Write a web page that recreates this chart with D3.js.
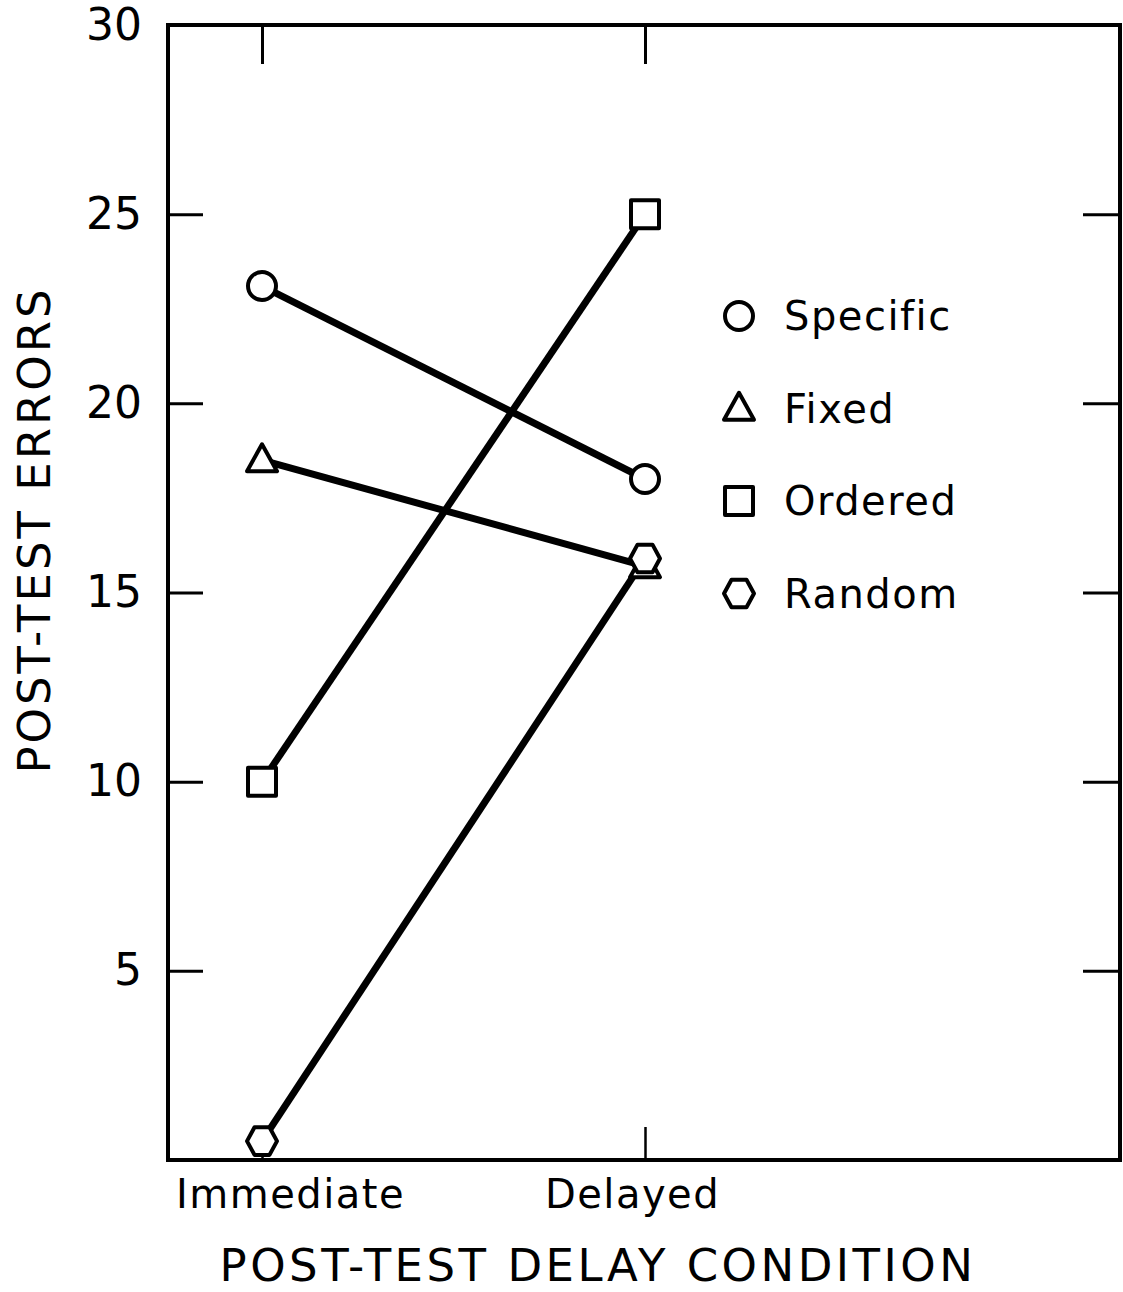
<!DOCTYPE html>
<html>
<head>
<meta charset="utf-8">
<script src="https://cdn.jsdelivr.net/npm/d3@7"></script>
<style>
  body { margin: 0; background: #fff; }
  text { font-family: "DejaVu Sans", sans-serif; fill: #000; }
</style>
</head>
<body>
<div id="chart"></div>
<script>
// data
const conditions = ["Immediate", "Delayed"]
const groups = ["Specific", "Fixed", "Ordered", "Random"]
const specific = [23.1, 18.0]
const fixed = [18.5, 15.7]
const ordered = [10.0, 25.0]
const random = [0.5, 15.9]
const yTicks = [5, 10, 15, 20, 25, 30]

const width = 1123,
    height = 1292
const plotLeft = 168, plotRight = 1120, plotTop = 25, plotBottom = 1160

const svg = d3.select("#chart")
  .append("svg")
    .attr("width", width)
    .attr("height", height)

const x = d3.scalePoint()
  .domain(conditions)
  .range([plotLeft + 94, plotLeft + 477])

const y = d3.scaleLinear()
  .domain([0, 30])
  .range([plotBottom, plotTop])

// marker shapes, all hollow
function hexagon(r) {
  const h = r * 0.92
  return `M${-r},0L${-r/2},${-h}L${r/2},${-h}L${r},0L${r/2},${h}L${-r/2},${h}Z`
}
function triangle(r) {
  return `M0,${-r*1.05}L${r},${r*0.75}L${-r},${r*0.75}Z`
}
function square(r) {
  return `M${-r},${-r}H${r}V${r}H${-r}Z`
}
function circle(r) {
  return d3.arc()({innerRadius: 0, outerRadius: r, startAngle: 0, endAngle: 2 * Math.PI})
}
const shapes = {
  Specific: () => circle(14),
  Fixed: () => triangle(15),
  Ordered: () => square(14),
  Random: () => hexagon(15)
}

// axes with inward ticks
svg.append("g")
  .attr("transform", `translate(${plotLeft},0)`)
  .call(d3.axisLeft(y).tickValues(yTicks).tickSizeInner(-35).tickSizeOuter(0).tickPadding(26))
  .call(g => g.select(".domain").remove())
  .call(g => g.selectAll("line").attr("stroke", "#000").attr("stroke-width", 3))
  .call(g => g.selectAll("text").attr("font-size", 44).attr("font-family", "DejaVu Sans"))

svg.append("g")
  .attr("transform", `translate(${plotRight},0)`)
  .call(d3.axisRight(y).tickValues(yTicks.slice(0, 5)).tickSizeInner(-37).tickSizeOuter(0).tickFormat(""))
  .call(g => g.select(".domain").remove())
  .call(g => g.selectAll("line").attr("stroke", "#000").attr("stroke-width", 3))

svg.append("g")
  .attr("transform", `translate(0,${plotTop})`)
  .call(d3.axisTop(x).tickSizeInner(-39).tickSizeOuter(0).tickFormat(""))
  .call(g => g.select(".domain").remove())
  .call(g => g.selectAll("line").attr("stroke", "#000").attr("stroke-width", 3))

svg.append("g")
  .attr("transform", `translate(0,${plotBottom})`)
  .call(d3.axisBottom(x).tickSizeInner(-33).tickSizeOuter(0).tickPadding(20))
  .call(g => g.select(".domain").remove())
  .call(g => g.selectAll("line").attr("stroke", "#000").attr("stroke-width", 2.5))
  .call(g => g.selectAll("text")
      .attr("font-size", 40)
      .attr("font-family", "DejaVu Sans")
      .attr("letter-spacing", 1.5)
      .attr("dx", (d, i) => i == 0 ? 28 : -13))

// frame
svg.append("rect")
  .attr("x", plotLeft)
  .attr("y", plotTop)
  .attr("width", plotRight - plotLeft)
  .attr("height", plotBottom - plotTop)
  .attr("fill", "none")
  .attr("stroke", "#000")
  .attr("stroke-width", 4)

// axis titles
svg.append("text")
  .attr("x", 598)
  .attr("y", 1281)
  .attr("text-anchor", "middle")
  .attr("font-size", 45)
  .attr("letter-spacing", 3.5)
  .text("POST-TEST DELAY CONDITION")

svg.append("text")
  .attr("transform", `translate(50,530) rotate(-90)`)
  .attr("text-anchor", "middle")
  .attr("font-size", 45)
  .attr("letter-spacing", 3)
  .text("POST-TEST ERRORS")

// series
const series = [
  {name: "Specific", values: specific},
  {name: "Fixed", values: fixed},
  {name: "Ordered", values: ordered},
  {name: "Random", values: random}
]

const line = d3.line()
  .x((d, i) => x(conditions[i]))
  .y(d => y(d))

svg.selectAll(".series")
  .data(series)
  .join("path")
    .attr("class", "series")
    .attr("d", d => line(d.values))
    .attr("fill", "none")
    .attr("stroke", "#000")
    .attr("stroke-width", 7)

series.forEach(s => {
  svg.selectAll(null)
    .data(s.values)
    .join("path")
      .attr("transform", (d, i) => `translate(${x(conditions[i])},${y(d)})`)
      .attr("d", shapes[s.name]())
      .attr("fill", "#fff")
      .attr("stroke", "#000")
      .attr("stroke-width", 4)
      .attr("stroke-linejoin", "round")
})

// legend
const legend = svg.append("g")
  .selectAll("g")
  .data(groups)
  .join("g")
    .attr("transform", (d, i) => `translate(739,${316 + i * 92.5})`)

legend.append("path")
  .attr("d", d => shapes[d]())
  .attr("fill", "#fff")
  .attr("stroke", "#000")
  .attr("stroke-width", 4)
  .attr("stroke-linejoin", "round")

legend.append("text")
  .attr("x", 45)
  .attr("dy", "0.36em")
  .attr("font-size", 40)
  .attr("letter-spacing", 1.5)
  .text(d => d)
</script>
</body>
</html>
